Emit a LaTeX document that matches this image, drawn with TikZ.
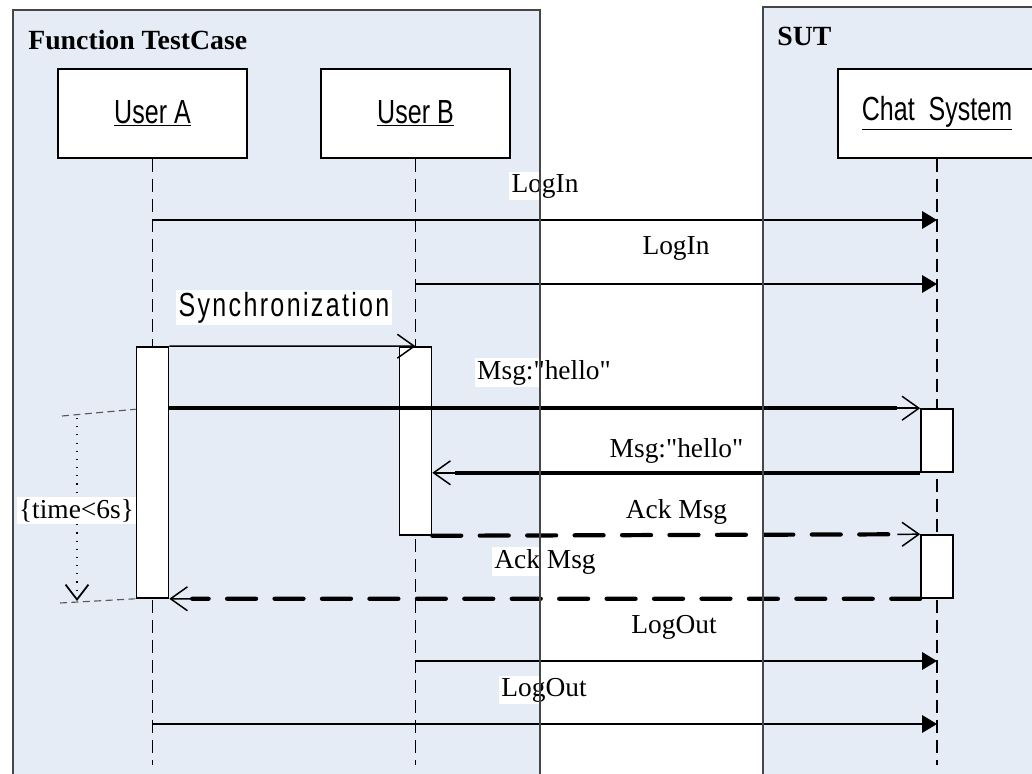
\documentclass[tikz,border=0pt]{standalone}
\usepackage{fontspec}
\setmainfont{Liberation Serif}
\newfontfamily\headsans[FakeStretch=0.75]{Liberation Sans}
\newfontfamily\syncsans[FakeStretch=0.75,LetterSpace=7]{Liberation Sans}
\usetikzlibrary{arrows.meta,calc}
\definecolor{framebg}{RGB}{230,236,246}
\definecolor{frameline}{RGB}{70,70,70}
\tikzset{
  frame/.style={draw=frameline, line width=0.65pt},
  obj/.style={draw, fill=white, line width=1pt, minimum width=3.78cm,
    minimum height=1.78cm, inner sep=0pt,
    font=\headsans\fontsize{19pt}{22pt}\selectfont},
  life/.style={line width=0.9pt, dash pattern=on 7.4pt off 4pt},
  act/.style={draw, fill=white, line width=0.9pt, minimum width=0.64cm, inner sep=0pt},
  call/.style={line width=0.9pt, -{Triangle[length=8.5pt,width=10pt]}},
  barb/.style={line width=0.85pt, -{Straight Barb[length=9.6pt,width=13.6pt]}},
  heavy/.style={line width=2.4pt},
  heavyd/.style={line width=2.4pt, line cap=round, dash pattern=on 16.5pt off 10.5pt},
  lbl/.style={fill=white, inner sep=1.2pt, font=\fontsize{15.6pt}{18pt}\selectfont},
  ttl/.style={anchor=base west, inner sep=0pt, font=\bfseries\fontsize{15.8pt}{18pt}\selectfont},
  tdash/.style={draw=black!65, line width=0.65pt, dash pattern=on 4pt off 2.5pt},
}
\begin{document}
\begin{tikzpicture}[x=0.02cm,y=-0.02cm]
\useasboundingbox (0,0) rectangle (1032,774);
\clip (0,0) rectangle (1032,774);
\fill[white] (0,0) rectangle (1032,774);

% frame backgrounds
\fill[framebg] (13,10) rectangle (540,790);
\fill[framebg] (763,7) rectangle (1050,790);
\node[ttl] (ttlA) at (28,50) {Function TestCase};
\node[ttl] (ttlB) at (777,46) {SUT};

% participants
\node[obj] (ua) at (152.5,113.5) {\underline{User A}};
\node[obj] (ub) at (415.5,113.5) {\underline{User B}};
\node[obj, minimum width=3.96cm] (cs) at (937,113.5) {\underline{Chat\ \ System}};

% lifelines
\coordinate (uaEnd) at (152.5,765);
\coordinate (ubEnd) at (415.5,765);
\coordinate (csEnd) at (937,765);
\draw[life] (ua.south) -- (uaEnd);
\draw[life] (ub.south) -- (ubEnd);
\draw[life] (cs.south) -- (csEnd);

% activation bars
\node[act, minimum height=5.02cm] (actA) at (152.5,472.5) {};
\node[act, minimum height=3.76cm] (actB) at (415.5,441) {};
\node[act, minimum height=1.26cm] (actC1) at (937,440.5) {};
\node[act, minimum height=1.26cm] (actC2) at (937,566.5) {};

% LogIn messages
\coordinate (m1s) at (152.5,220); \coordinate (m1e) at (937,220);
\coordinate (m2s) at (415.5,284); \coordinate (m2e) at (937,284);
\draw[call] (m1s) -- (m1e);
\draw[call] (m2s) -- (m2e);
\node[lbl, anchor=base] (l1) at (545,192) {LogIn};
\node[lbl, anchor=base] (l2) at (676,254) {LogIn};

% synchronization
\draw[barb] (actA.north east) -- (actB.north);
\node[lbl, anchor=base, font=\syncsans\fontsize{19pt}{22pt}\selectfont] (l3) at (284,316) {Synchronization};

% Msg "hello" from User A to the chat system
\coordinate (h1s) at (actA.east |- actC1.north);
\coordinate (h1m) at ($(actC1.north west)!13pt!(h1s)$);
\draw[heavy] (h1s) -- (h1m);
\draw[barb] (h1m) -- (actC1.north west);
\node[lbl, anchor=base] (l4) at (544,379) {Msg:\textquotedbl hello\textquotedbl};

% Msg "hello" forwarded to User B
\coordinate (h2e) at (actB.east |- actC1.south);
\coordinate (h2m) at ($(h2e)!13pt!(actC1.south west)$);
\draw[heavy] (actC1.south west) -- (h2m);
\draw[barb] (h2m) -- (h2e);
\node[lbl, anchor=base] (l5) at (676.5,457) {Msg:\textquotedbl hello\textquotedbl};

% acknowledgements
\coordinate (a1m) at ($(actC2.north west)!13pt!(actB.south east)$);
\draw[heavyd] (actB.south east) -- (a1m);
\draw[barb] (a1m) -- (actC2.north west);
\node[lbl, anchor=base] (l6) at (676.5,518) {Ack Msg};

\coordinate (a2m) at ($(actA.south east)!13pt!(actC2.south west)$);
\draw[heavyd] (actC2.south west) -- (a2m);
\draw[barb] (a2m) -- (actA.south east);
\node[lbl, anchor=base] (l7) at (545,568) {Ack Msg};

% LogOut messages
\coordinate (m8s) at (415.5,661); \coordinate (m8e) at (937,661);
\coordinate (m9s) at (152.5,724); \coordinate (m9e) at (937,724);
\draw[call] (m8s) -- (m8e);
\draw[call] (m9s) -- (m9e);
\node[lbl, anchor=base] (l8) at (674,633) {LogOut};
\node[lbl, anchor=base] (l9) at (544,696) {LogOut};

% duration constraint
\coordinate (t1a) at (62,416); \coordinate (t1b) at ($(actA.north west)+(0,63)$);
\coordinate (t2a) at (60,603);
\draw[tdash] (t1a) -- (t1b);
\draw[tdash] (t2a) -- (actA.south west);
\coordinate (tv1) at (77,418); \coordinate (tv2) at (77,601);
\draw[line width=0.65pt, dash pattern=on 0.65pt off 4pt,
  -{Straight Barb[length=8.5pt,width=13pt,line width=1pt]}] (tv1) -- (tv2);
\node[lbl, anchor=base] (l10) at (76.5,518) {\{time<6s\}};

% frame outlines
\draw[frame] (13,790) -- (13,10) -- (540,10) -- (540,790);
\draw[frame] (763,790) -- (763,7) -- (1050,7);
\end{tikzpicture}
\end{document}
